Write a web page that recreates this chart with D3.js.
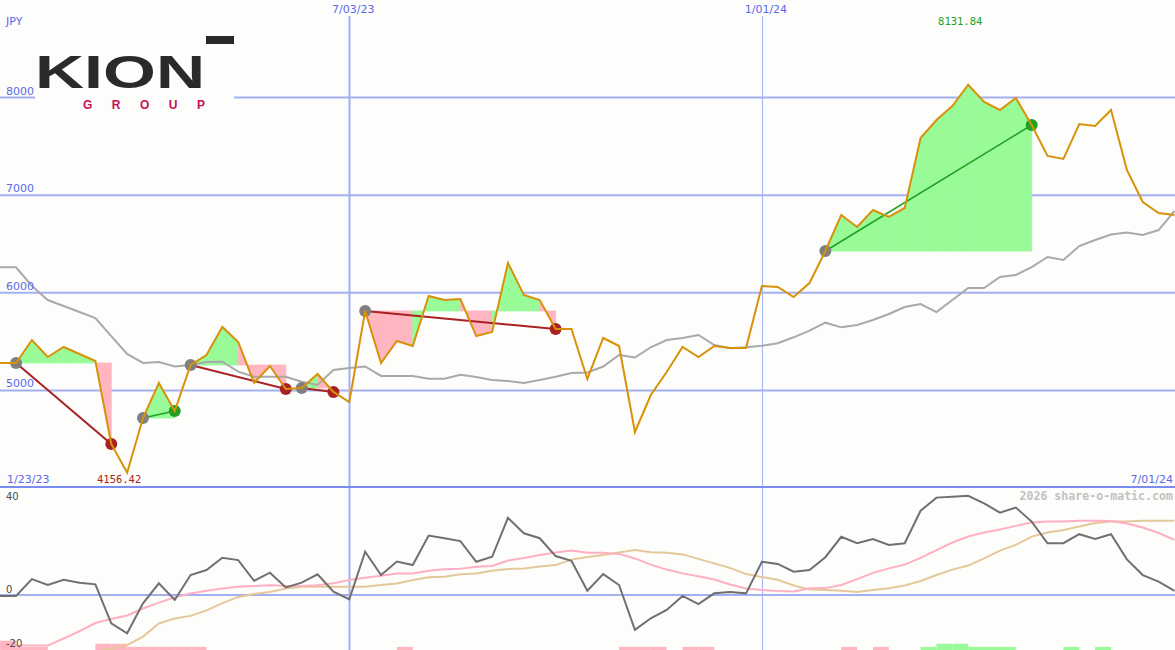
<!DOCTYPE html>
<html><head><meta charset="utf-8">
<script src="https://cdn.jsdelivr.net/npm/d3@7"></script>
<style>body{margin:0;background:#fff}svg{display:block}</style>
</head><body><svg id="c" width="1175" height="650"></svg>
<script>
// ---------------- data ----------------
const startDate = "2023-01-23";
const endDate = "2024-07-01";
const currency = "JPY";
const watermark = "2026 share-o-matic.com";

// weekly close (JPY)
const price = [5281,5281,5281,5516,5342,5445,5373,5301,4451,4156.42,
  4717,5076,4789,5260,5363,5650,5496,5076,5250,5014,
  5025,5168,4984,4881,5814,5281,5506,5455,5967,5926,
  5936,5557,5598,6305,5977,5926,5629,5629,5117,5537,
  5455,4574,4953,5188,5445,5342,5455,5434,5434,6070,
  6060,5957,6100,6428,6797,6674,6848,6777,6869,7586,
  7770,7914,8131.84,7955,7873,7996,7719,7402,7371,7729,
  7709,7873,7258,6930,6818,6797];
// moving average (grey)
const average = [6261,6261,6261,6070,5926,5865,5803,5742,5557,5373,
  5281,5291,5245,5260,5291,5294,5192,5140,5140,5140,
  5089,5055,5209,5230,5245,5148,5148,5148,5120,5120,
  5161,5137,5107,5096,5076,5107,5140,5178,5183,5245,
  5363,5337,5442,5516,5537,5568,5465,5431,5442,5458,
  5483,5544,5612,5694,5646,5670,5721,5783,5854,5885,
  5803,5926,6049,6049,6162,6182,6264,6367,6336,6479,
  6541,6597,6618,6592,6643,6838];
// lower panel: momentum and its two averages
const momentum = [-0.4,-0.4,-0.4,6.7,4.2,6.4,5.2,4.5,-11.9,-16.1,
  -3.5,4.9,-2.1,8.4,10.5,15.7,14.7,6.0,9.4,3.2,
  5.2,8.7,1.4,-1.8,18.2,8.4,14.1,12.6,25.0,23.9,
  22.7,14.0,16.1,32.5,26.0,23.9,16.4,14.4,1.8,8.8,
  4.2,-14.7,-9.8,-6.3,-0.4,-3.8,0.7,1.3,0.7,14.0,
  13.1,9.8,10.5,15.9,24.5,21.8,23.6,21.1,21.8,35.5,
  41.0,41.4,41.8,38.6,34.7,36.8,30.9,21.8,21.8,25.6,
  23.6,25.6,15.0,8.4,5.6,1.7];
const momFast = [-21.3,-21.3,-21.3,-21.3,-21.3,-18.3,-15.2,-11.8,-10.1,-8.6,
  -5.7,-3.2,-1.0,0.6,1.8,2.7,3.5,3.8,4.1,3.8,
  3.8,4.1,4.9,6.3,7.3,8.1,9.1,9.1,10.2,10.8,
  11.1,11.9,12.2,14.5,15.6,16.8,17.9,18.7,17.8,17.8,
  17.3,15.4,12.8,10.7,9.1,7.9,6.5,4.4,2.7,2.1,
  1.7,1.5,2.8,2.9,4.2,6.7,9.3,11.2,12.8,15.6,
  18.9,22.1,24.6,26.3,27.6,29.1,30.5,30.9,30.9,31.3,
  31.3,31.2,30.1,28.4,26.1,23.2];
const momSlow = [-30.7,-29.5,-28.2,-27.4,-26.1,-25.3,-24.4,-23.8,-22.7,-21.1,
  -17.5,-12.0,-9.9,-8.8,-6.5,-3.4,-0.8,0.4,1.3,2.7,
  3.5,3.5,3.5,3.5,3.5,4.2,4.8,6.3,7.5,7.7,
  8.7,9.1,10.2,10.9,11.2,12.0,12.6,14.9,16.0,16.8,
  17.9,18.9,18.0,17.8,17.1,15.2,13.3,11.4,8.8,7.6,
  6.4,4.0,2.3,2.1,1.8,1.3,2.1,2.8,4.0,5.9,
  8.4,10.7,12.4,15.4,18.7,21.1,24.6,26.3,27.4,28.8,
  30.3,30.9,30.9,31.3,31.3,31.3];
// signal strength bars along the bottom edge
const signal = [0,-3,-1,-1,0,0,0,-2,-2,-1,
  -1,-1,-1,-1,0,0,0,0,0,0,
  0,0,0,0,0,0,-1,0,0,0,
  0,0,0,0,0,0,0,0,0,0,
  -1,-1,-1,0,-1,-1,0,0,0,0,
  0,0,0,0,-1,0,-1,0,0,1,
  2,2,1,1,1,0,0,0,1,0,
  1,0,0,0,0,0];
// trades: week index of entry and exit
const tradeStart = [2,10,13,20,24,53];
const tradeEnd   = [8,12,19,22,36,66];

const priceTicks = [5000,6000,7000,8000];
const dateTicks = ["2023-07-03","2024-01-01"];
const dateTickLabels = ["7/03/23","1/01/24"];
const momTicks = [40,0,-20];
const edgeLabels = ["1/23/23","7/01/24"];

// ---------------- drawing ----------------
const W = 1175, H = 650;
const svg = d3.select("#c");
const parse = d3.utcParse("%Y-%m-%d");
const dates = d3.utcMonday.range(parse(startDate), d3.utcDay.offset(parse(endDate), 1));

const x = d3.scaleUtc().domain([parse(startDate), parse(endDate)]).range([-15.7, 1174.5]);
const y = d3.scaleLinear().domain([4000, 9000]).range([488, 0]);
const yl = d3.scaleLinear().domain([-20, 40]).range([642.5, 500]);
const barH = d3.scaleLinear().domain([0, 1]).range([0, 3.1]);

const C = {
  bg: "#fdfdfb", grid: "#a3b1f2", sep: "#7a8cf0", axis: "#5a6aea",
  price: "#d8920a", avg: "#a9a9a9", green: "#98fb98", pink: "#ffb6c1",
  red: "#a82222", dgreen: "#22a022", gdot: "#808080",
  mom: "#707070", fast: "#ffafc4", slow: "#e5c899", lowLbl: "#4a4a4a"
};
const SANS = "'DejaVu Sans', Verdana, sans-serif";
const MONO = "'DejaVu Sans Mono', monospace";

svg.append("rect").attr("width", W).attr("height", H).attr("fill", C.bg);

const defs = svg.append("defs");
defs.append("clipPath").attr("id", "cm").append("rect").attr("x", 0).attr("y", 0).attr("width", W).attr("height", 487);
defs.append("clipPath").attr("id", "cl").append("rect").attr("x", 0).attr("y", 488).attr("width", W).attr("height", H - 488);

// horizontal grid
svg.append("g").selectAll("line").data(priceTicks).join("line")
  .attr("x1", 0).attr("x2", W).attr("y1", d => y(d)).attr("y2", d => y(d))
  .attr("stroke", C.grid).attr("stroke-width", 2);
// vertical grid
svg.append("g").selectAll("line").data(dateTicks).join("line")
  .attr("x1", d => Math.round(x(parse(d))) + 0.5).attr("x2", d => Math.round(x(parse(d))) + 0.5)
  .attr("y1", 16).attr("y2", H)
  .attr("stroke", C.grid).attr("stroke-width", (d, i) => i === 0 ? 2 : 1);
// lower zero line
svg.append("line").attr("x1", 0).attr("x2", W).attr("y1", yl(0)).attr("y2", yl(0))
  .attr("stroke", C.grid).attr("stroke-width", 2);

// logo
const logo = svg.append("g");
logo.append("rect").attr("x", 35).attr("y", 30).attr("width", 199).attr("height", 80).attr("fill", C.bg);
logo.append("text").attr("x", 35).attr("y", 88).text("KION")
  .attr("font-family", "'Liberation Sans', Arial, sans-serif").attr("font-weight", "bold")
  .attr("font-size", 47).attr("fill", "#2b2929")
  .attr("textLength", 170).attr("lengthAdjust", "spacingAndGlyphs");
logo.append("rect").attr("x", 206).attr("y", 36).attr("width", 28).attr("height", 8).attr("fill", "#2b2929");
logo.append("text").attr("x", 83).attr("y", 108.5).text("GROUP")
  .attr("font-family", "'Liberation Sans', Arial, sans-serif").attr("font-weight", "bold")
  .attr("font-size", 12).attr("fill", "#c6105a")
  .attr("textLength", 122).attr("lengthAdjust", "spacing");

// main panel
const gm = svg.append("g").attr("clip-path", "url(#cm)");
const trades = tradeStart.map((s, k) => ({ s, e: tradeEnd[k], level: price[s] }));

// trade fills, one interval at a time
const area = d3.area().x(d => x(dates[d])).y1(d => y(price[d]));
trades.forEach(t => {
  for (let j = t.s; j < t.e; j++) {
    const col = price[j + 1] >= t.level ? C.green : C.pink;
    gm.append("path")
      .attr("d", area.y0(y(t.level))([j, j + 1]))
      .attr("fill", col).attr("stroke", col).attr("stroke-width", 0.8);
  }
});

const line = arr => d3.line().x((d, i) => x(dates[i])).y(d => y(d))(arr);
gm.append("path").attr("d", line(average)).attr("fill", "none").attr("stroke", C.avg).attr("stroke-width", 2);

// trade connectors
gm.selectAll(".conn").data(trades).join("line")
  .attr("x1", d => x(dates[d.s])).attr("y1", d => y(price[d.s]))
  .attr("x2", d => x(dates[d.e])).attr("y2", d => y(price[d.e]))
  .attr("stroke", d => price[d.e] >= d.level ? C.dgreen : C.red)
  .attr("stroke-width", d => price[d.e] >= d.level ? 1.6 : 2);
gm.selectAll(".sd").data(trades).join("circle")
  .attr("cx", d => x(dates[d.s])).attr("cy", d => y(price[d.s])).attr("r", 6).attr("fill", C.gdot);
gm.selectAll(".ed").data(trades).join("circle")
  .attr("cx", d => x(dates[d.e])).attr("cy", d => y(price[d.e])).attr("r", 6)
  .attr("fill", d => price[d.e] >= d.level ? C.dgreen : C.red);

gm.append("path").attr("d", line(price)).attr("fill", "none").attr("stroke", C.price).attr("stroke-width", 2);

// panel separator
svg.append("line").attr("x1", 0).attr("x2", W).attr("y1", 487).attr("y2", 487)
  .attr("stroke", C.sep).attr("stroke-width", 2);

// lower panel
const gl = svg.append("g").attr("clip-path", "url(#cl)");
gl.selectAll("rect").data(signal.map((v, i) => ({ v, i })).filter(d => d.v !== 0)).join("rect")
  .attr("x", d => x(dates[d.i])).attr("width", d => x(dates[d.i + 1]) - x(dates[d.i]))
  .attr("y", d => H - barH(Math.abs(d.v))).attr("height", d => barH(Math.abs(d.v)))
  .attr("fill", d => d.v < 0 ? C.pink : C.green);
const lline = arr => d3.line().x((d, i) => x(dates[i])).y(d => yl(d))(arr);
gl.append("path").attr("d", lline(momSlow)).attr("fill", "none").attr("stroke", C.slow).attr("stroke-width", 2);
gl.append("path").attr("d", lline(momFast)).attr("fill", "none").attr("stroke", C.fast).attr("stroke-width", 2);
gl.append("path").attr("d", lline(momentum)).attr("fill", "none").attr("stroke", C.mom).attr("stroke-width", 2);

// ---------------- text ----------------
const txt = (sel, s, xx, yy, opts) => {
  const t = sel.append("text").attr("x", xx).attr("y", yy).text(s)
    .attr("font-family", opts.family || SANS).attr("font-size", opts.size || 11)
    .attr("fill", opts.fill || C.axis).attr("text-anchor", opts.anchor || "start");
  if (opts.weight) t.attr("font-weight", opts.weight);
  return t;
};
txt(svg, currency, 6, 25, {});
priceTicks.forEach(t => txt(svg, String(t), 6, y(t) - 3, {}));
dateTicks.forEach((d, i) => txt(svg, dateTickLabels[i], x(parse(d)) + 4, 13, { anchor: "middle" }));
txt(svg, edgeLabels[0], 7, 483, {});
txt(svg, edgeLabels[1], 1173, 483, { anchor: "end" });

const iMin = d3.minIndex(price), iMax = d3.maxIndex(price);
txt(svg, price[iMin].toFixed(2), x(dates[iMin]) - 8, 483, { anchor: "middle", family: MONO, size: 10.5, fill: C.red });
txt(svg, price[iMax].toFixed(2), x(dates[iMax]) - 8, 25, { anchor: "middle", family: MONO, size: 10.5, fill: C.dgreen });

txt(svg, watermark, 1173, 500, { anchor: "end", family: MONO, size: 11.6, weight: "bold", fill: "#c2c2c2" });

const [lo, hi] = d3.extent(momTicks);
momTicks.forEach(t => {
  const yy = t === hi ? 500 : t === lo ? 647 : yl(t) - 2;
  txt(svg, String(t), 6, yy, { size: 10, fill: C.lowLbl });
});
</script>
</body></html>
